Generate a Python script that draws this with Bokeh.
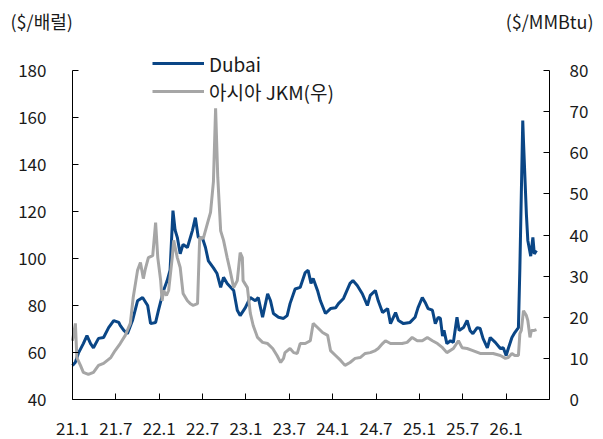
from bokeh.plotting import figure
from bokeh.models import Range1d, LinearAxis, FixedTicker, Label, Legend, LegendItem
from bokeh.embed import file_html
from bokeh.resources import INLINE

# months since Jan 2021 (weekly-ish observations)
dubai_t = [0, 0.4, 0.8, 1.5, 2.0, 2.5, 2.9, 3.6, 4.3, 5.0, 5.7, 6.4, 6.6, 7.1, 7.6, 8.3, 9.0, 9.7,
           10.4, 10.8, 11.5, 11.9, 12.6, 13.1, 13.5, 13.9, 14.2, 14.5, 14.9, 15.3, 15.9, 16.6, 17.0,
           17.4, 18.0, 18.4, 18.8, 19.5, 20.0, 20.5, 20.9, 21.4, 22.3, 22.8, 23.2, 23.9, 24.6, 25.3,
           25.7, 26.3, 27.0, 27.4, 27.8, 28.5, 29.2, 29.7, 30.1, 30.8, 31.5, 32.2, 32.6, 33.0, 33.3,
           33.9, 34.3, 35.0, 35.7, 36.4, 36.8, 37.5, 38.4, 38.8, 39.4, 40.1, 40.8, 41.2, 41.9, 42.3,
           42.9, 43.6, 44.0, 44.7, 45.1, 45.8, 46.7, 47.4, 47.8, 48.4, 48.8, 49.2, 49.8, 50.2, 50.6,
           50.9, 51.2, 51.4, 51.8, 52.3, 52.7, 53.2, 53.5, 54.1, 54.6, 55.0, 55.4, 56.0, 56.4, 56.8,
           57.4, 57.8, 58.5, 59.2, 59.6, 60.0, 60.3, 60.8, 61.2, 61.7, 61.9, 62.3, 62.4, 62.8, 63.0,
           63.4, 63.7, 63.9, 64.2]
dubai_v = [54.5, 55.9, 59.6, 63.8, 67.2, 63.8, 62, 66, 66.4, 70.6, 73.6, 72.8, 71.5, 69.4, 68, 73.6,
           82, 83.4, 80, 72.3, 72.8, 78, 86.4, 90.6, 95, 120.4, 112, 109, 102, 106, 104.7, 112, 117.4,
           109, 108.5, 104.7, 99, 96, 93.6, 87.7, 92, 89.4, 86.4, 78, 75.7, 79, 83.4, 82, 83.4, 75,
           85, 82, 76.6, 75, 74.5, 75.7, 80.8, 87, 87.7, 94, 95, 89.4, 91.5, 86.4, 82, 76.6, 78.7,
           79, 80.8, 83, 89.4, 90.6, 88.5, 85, 80, 84.3, 86.4, 82, 77, 78.7, 72.3, 77, 73.6, 72.3,
           72.8, 75, 79, 83.4, 81.3, 78.7, 78, 72.3, 75, 74.5, 67, 69.4, 63.8, 65, 64.3, 75, 69.4,
           70.6, 73.6, 69.4, 68, 70.6, 70.2, 66, 62, 66.4, 64.3, 61.7, 62, 58.7, 61.7, 66.4, 68.5,
           70.6, 96, 158.7, 150, 119, 107.7, 101, 109, 102, 103.4]

jkm_t = [0, 0.4, 0.6, 1.1, 1.5, 2.2, 2.9, 3.6, 4.3, 5.3, 5.9, 6.6, 7.3, 8.0, 8.4, 9.0, 9.4, 9.8,
         10.1, 10.5, 11.1, 11.5, 11.8, 12.2, 12.4, 12.6, 13.0, 13.3, 13.8, 14.0, 14.5, 14.9, 15.3,
         15.9, 16.3, 16.7, 17.3, 17.6, 18.1, 18.7, 19.1, 19.5, 19.8, 20.1, 20.5, 20.9, 21.4, 21.8,
         22.3, 22.8, 23.2, 23.5, 23.6, 24.2, 24.6, 25.0, 25.6, 26.3, 27.0, 27.7, 28.3, 28.8, 29.2,
         29.4, 30.1, 30.6, 31.1, 31.5, 32.2, 32.9, 33.3, 33.9, 34.6, 35.3, 35.7, 36.4, 37.1, 37.7,
         38.4, 39.1, 39.8, 40.5, 41.2, 41.9, 42.3, 42.9, 43.3, 44.0, 44.9, 45.6, 46.3, 47.0, 47.7,
         48.4, 49.1, 49.8, 50.5, 51.2, 51.8, 52.7, 53.4, 53.9, 54.6, 55.4, 56.4, 57.4, 58.2, 59.2,
         59.9, 60.3, 60.8, 61.2, 61.7, 61.9, 62.1, 62.4, 62.8, 63.0, 63.3, 63.5, 63.9, 64.2]
jkm_v = [14.3, 18.5, 10.2, 8.3, 6.6, 6.1, 6.6, 8.3, 8.8, 10.2, 11.9, 13.6, 15.6, 18.5, 24.8, 31.4,
         33.3, 29.4, 31.9, 34.5, 35, 43, 34.5, 28.9, 24, 26.5, 25.3, 26.5, 34.5, 38.7, 34.5, 32.1,
         25.8, 24, 23.3, 22.9, 23.3, 39.4, 39.2, 43, 45.5, 53, 70.8, 54, 41, 38.7, 34.5, 31.4,
         27.2, 28.9, 35.7, 34.5, 28.9, 27.2, 21, 18, 15.1, 13.9, 13.6, 12.4, 10.7, 9, 10, 11.4,
         12.4, 11.4, 11.2, 13.6, 13.6, 14.3, 18.5, 17.5, 16.3, 15.6, 11.9, 10.7, 9.5, 8.3, 9, 10,
         10.2, 11.2, 11.4, 11.9, 12.4, 13.6, 14.3, 13.6, 13.6, 13.6, 13.9, 15.1, 14.3, 14.3, 15.1,
         14.3, 13.6, 12.6, 11.4, 12.4, 14.3, 12.6, 12.4, 11.9, 11.2, 11.2, 11.2, 10.7, 10, 10.2,
         11.2, 10.7, 10.7, 16, 16.8, 21.6, 20.4, 19.2, 15.1, 16.8, 16.8, 17]

tick_pos = [0, 6, 12, 18, 24, 30, 36, 42, 48, 54, 60]
tick_labels = ["21.1", "21.7", "22.1", "22.7", "23.1", "23.7", "24.1", "24.7", "25.1", "25.7", "26.1"]
left_ticks = [40, 60, 80, 100, 120, 140, 160, 180]
right_ticks = [0, 10, 20, 30, 40, 50, 60, 70, 80]

FONT = "Noto Sans CJK KR"
TXT = "#1a1a1a"

# canvas and axis-box geometry (pixels)
W, H = 603, 439
PL, PR, PT, PB = 72, 549, 70, 399
X0, X1 = 0, 66           # data x at left / right axis
YL0, YL1 = 40, 180       # left axis
YR0, YR1 = 0, 80         # right axis

sx = (PR - PL) / (X1 - X0)
syl = (PB - PT) / (YL1 - YL0)
syr = (PB - PT) / (YR1 - YR0)

p = figure(width=W, height=H, frame_width=W, frame_height=H, output_backend="svg",
           toolbar_location=None, min_border=0,
           x_range=Range1d(X0 - PL / sx, X1 + (W - PR) / sx),
           y_range=Range1d(YL0 - (H - PB) / syl, YL1 + PT / syl))
p.extra_y_ranges = {"r": Range1d(YR0 - (H - PB) / syr, YR1 + PT / syr)}
p.grid.visible = False
p.outline_line_color = None
p.background_fill_color = "white"


def style(ax):
    ax.major_tick_in = 6
    ax.major_tick_out = 0
    ax.minor_tick_line_color = None
    ax.axis_line_color = "#000000"
    ax.major_tick_line_color = "#000000"
    ax.major_label_text_font = FONT
    ax.major_label_text_font_size = "17px"
    ax.major_label_text_color = TXT


xa = p.xaxis[0]
style(xa)
xa.ticker = FixedTicker(ticks=tick_pos)
xa.major_label_overrides = {t: l for t, l in zip(tick_pos, tick_labels)}
xa.major_label_standoff = 22
xa.fixed_location = YL0
xa.bounds = (X0, X1)

ya = p.yaxis[0]
style(ya)
ya.ticker = FixedTicker(ticks=left_ticks)
ya.major_label_standoff = 26
ya.fixed_location = X0
ya.bounds = (YL0, YL1)

ra = LinearAxis(y_range_name="r", ticker=FixedTicker(ticks=right_ticks))
style(ra)
ra.major_label_standoff = 20
ra.fixed_location = X1
ra.bounds = (YR0, YR1)
p.add_layout(ra, "right")

r_dub = p.line(dubai_t, dubai_v, line_color="#0a4686", line_width=3)
r_jkm = p.line(jkm_t, jkm_v, y_range_name="r", line_color="#a6a6a6", line_width=3)

legend = Legend(items=[LegendItem(label="Dubai", renderers=[r_dub]),
                       LegendItem(label="아시아 JKM(우)", renderers=[r_jkm])],
                location=(152, H - 105), orientation="vertical")
legend.background_fill_alpha = 0
legend.border_line_color = None
legend.padding = 0
legend.margin = 0
legend.spacing = 0
legend.glyph_width = 52
legend.glyph_height = 28
legend.label_height = 28
legend.label_standoff = 5
legend.label_text_font = FONT
legend.label_text_font_size = "19px"
legend.label_text_color = TXT
p.add_layout(legend, "center")

p.add_layout(Label(x=10, y=H - 20, x_units="screen", y_units="screen", text="($/배럴)",
                   text_font=FONT, text_font_size="18px", text_color=TXT, text_baseline="middle"))
p.add_layout(Label(x=593, y=H - 20, x_units="screen", y_units="screen", text="($/MMBtu)",
                   text_font=FONT, text_font_size="18px", text_color=TXT, text_baseline="middle",
                   text_align="right"))

open("out.html", "w").write(file_html(p, INLINE))
